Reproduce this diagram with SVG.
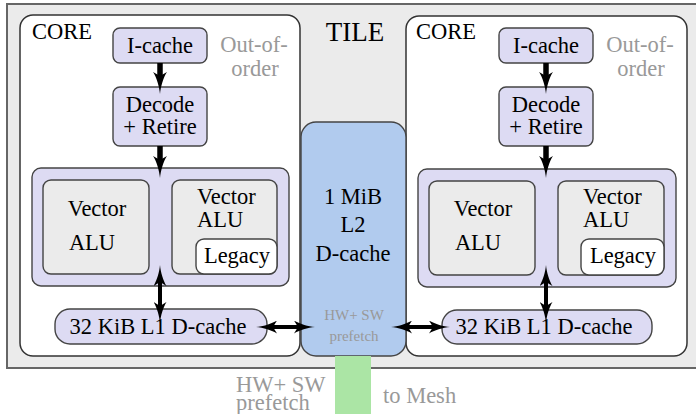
<svg xmlns="http://www.w3.org/2000/svg" width="696" height="414" viewBox="0 0 696 414">
<defs>
<style>
text{font-family:"Liberation Serif","Times New Roman",serif;font-size:22.5px;fill:#000}
.g{fill:#999}
.m{text-anchor:middle}
.core{fill:#fff;stroke:#333;stroke-width:1.5}
.lav{fill:#dddbf3;stroke:#444;stroke-width:1.4}
.gry{fill:#ebebeb;stroke:#444;stroke-width:1.4}
.wht{fill:#fff;stroke:#444;stroke-width:1.4}
.ar{stroke:#000;fill:none}
</style>
<marker id="ah" viewBox="0 0 22 14" refX="6" refY="7" markerWidth="22" markerHeight="14" markerUnits="userSpaceOnUse" orient="auto-start-reverse"><path d="M22,7 C15,7.6 5,10.5 0,14 L4,7 L0,0 C5,3.5 15,6.4 22,7 z" fill="#000"/></marker>
<marker id="bh" viewBox="0 0 21 13" refX="6" refY="6.5" markerWidth="21" markerHeight="13" markerUnits="userSpaceOnUse" orient="auto-start-reverse"><path d="M21,6.5 C14,7.1 5,9.8 0,13 L4,6.5 L0,0 C5,3.2 14,5.9 21,6.5 z" fill="#000"/></marker>
</defs>
<g id="tile">
<rect x="7" y="4" width="700" height="364" fill="#ebebeb" stroke="#666" stroke-width="2"/>
<text x="355" y="41" class="m" style="font-size:27px">TILE</text>
</g>
<g id="core-left">
<rect class="core" x="20" y="15" width="280" height="341" rx="13"/>
<text x="32" y="39">CORE</text>
<text x="254" y="52" class="g m">Out-of-</text>
<text x="255" y="76" class="g m">order</text>
</g>
<g id="icache-left"><rect class="lav" x="113" y="28" width="94" height="35" rx="7"/><text x="160" y="53" class="m">I-cache</text></g>
<g id="decode-left"><rect class="lav" x="113" y="87" width="94" height="59" rx="7"/><text x="160" y="112" class="m">Decode</text><text x="160" y="134" class="m">+ Retire</text></g>
<g id="exec-left"><rect class="lav" x="32" y="168" width="257" height="118" rx="9"/></g>
<g id="valu1-left"><rect class="gry" x="43" y="180" width="106" height="94" rx="8"/><text x="97" y="216" class="m">Vector</text><text x="92" y="250" class="m">ALU</text></g>
<g id="valu2-left"><rect class="gry" x="172" y="180" width="105" height="94" rx="8"/><text x="197" y="204">Vector</text><text x="197" y="227">ALU</text></g>
<g id="legacy-left"><rect class="wht" x="196" y="239" width="81" height="35" rx="8"/><text x="237" y="263" class="m">Legacy</text></g>
<g id="l1-left"><rect class="lav" x="55" y="309" width="212" height="35" rx="15"/><text x="158" y="334" class="m">32 KiB L1 D-cache</text></g>
<g id="core-right">
<rect class="core" x="406" y="16" width="281" height="340" rx="13"/>
<text x="416" y="39">CORE</text>
<text x="640" y="52" class="g m">Out-of-</text>
<text x="641" y="76" class="g m">order</text>
</g>
<g id="icache-right"><rect class="lav" x="499" y="28" width="94" height="35" rx="7"/><text x="546" y="53" class="m">I-cache</text></g>
<g id="decode-right"><rect class="lav" x="499" y="87" width="94" height="59" rx="7"/><text x="546" y="112" class="m">Decode</text><text x="546" y="134" class="m">+ Retire</text></g>
<g id="exec-right"><rect class="lav" x="418" y="169" width="258" height="118" rx="9"/></g>
<g id="valu1-right"><rect class="gry" x="429" y="181" width="106" height="94" rx="8"/><text x="483" y="216" class="m">Vector</text><text x="478" y="250" class="m">ALU</text></g>
<g id="valu2-right"><rect class="gry" x="558" y="181" width="106" height="94" rx="8"/><text x="583" y="204">Vector</text><text x="583" y="227">ALU</text></g>
<g id="legacy-right"><rect class="wht" x="581" y="239" width="83" height="36" rx="8"/><text x="623" y="263" class="m">Legacy</text></g>
<g id="l1-right"><rect class="lav" x="442" y="310" width="210" height="34" rx="15"/><text x="544" y="334" class="m">32 KiB L1 D-cache</text></g>
<g id="l2">
<rect x="301" y="122" width="105" height="234" rx="15" fill="#b1cbee" stroke="#444" stroke-width="1.4"/>
<text x="353" y="204" class="m">1 MiB</text>
<text x="353" y="232" class="m">L2</text>
<text x="353" y="261" class="m">D-cache</text>
<text x="354" y="320" class="g m" style="font-size:15px">HW+ SW</text>
<text x="354" y="341" class="g m" style="font-size:15px">prefetch</text>
</g>
<g id="mesh">
<rect x="335" y="356" width="36" height="58" fill="#abe5a5"/>
<text x="236" y="392" class="g">HW+ SW</text>
<text x="236" y="410" class="g">prefetch</text>
<text x="383" y="403" class="g">to Mesh</text>
</g>
<g id="connectors">
<line class="ar" x1="160" y1="63" x2="160" y2="78" stroke-width="5.5" marker-end="url(#ah)"/>
<line class="ar" x1="160" y1="146" x2="160" y2="162" stroke-width="5.5" marker-end="url(#ah)"/>
<line class="ar" x1="546" y1="63" x2="546" y2="78" stroke-width="5.5" marker-end="url(#ah)"/>
<line class="ar" x1="546" y1="146" x2="546" y2="162" stroke-width="5.5" marker-end="url(#ah)"/>
<line class="ar" x1="160" y1="280" x2="160" y2="308" stroke-width="4" marker-start="url(#bh)" marker-end="url(#bh)"/>
<line class="ar" x1="546" y1="280" x2="546" y2="308" stroke-width="4" marker-start="url(#bh)" marker-end="url(#bh)"/>
<line class="ar" x1="271" y1="327" x2="300" y2="327" stroke-width="4" marker-start="url(#bh)" marker-end="url(#bh)"/>
<line class="ar" x1="406" y1="327" x2="435" y2="327" stroke-width="4" marker-start="url(#bh)" marker-end="url(#bh)"/>
</g>
</svg>
